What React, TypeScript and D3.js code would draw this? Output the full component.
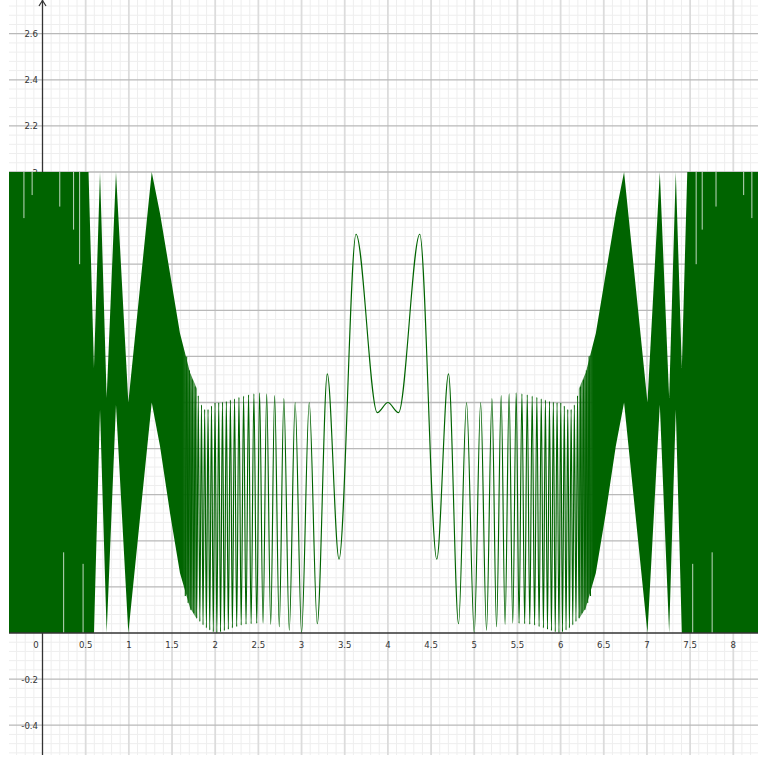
import React from 'react';
import * as d3 from 'd3';

const W = 758;
const H = 757;

// Tick labels
const xTickValues = [0, 0.5, 1, 1.5, 2, 2.5, 3, 3.5, 4, 4.5, 5, 5.5, 6, 6.5, 7, 7.5, 8];
const xTickLabels = ['0', '0.5', '1', '1.5', '2', '2.5', '3', '3.5', '4', '4.5', '5', '5.5', '6', '6.5', '7', '7.5', '8'];
const yTickValues = [-0.4, -0.2, 0.2, 0.4, 0.6, 0.8, 1, 1.2, 1.4, 1.6, 1.8, 2, 2.2, 2.4, 2.6];
const yTickLabels = ['-0.4', '-0.2', '0.2', '0.4', '0.6', '0.8', '1', '1.2', '1.4', '1.6', '1.8', '2', '2.2', '2.4', '2.6'];

// Dense band (unresolvable oscillation) envelopes, left side
const bandLeftX = [-0.388, 0.533, 0.596, 0.666, 0.743, 0.851, 0.994, 1.265, 1.361, 1.477, 1.592, 1.708, 1.789];
const bandLeftUpper = [2, 2, 1.15, 2, 1.02, 2, 1.0, 2, 1.82, 1.56, 1.3, 1.13, 1.06];
const bandLeftLower = [0, 0, 0, 0.97, 0, 0.99, 0, 1.0, 0.81, 0.52, 0.26, 0.11, 0.06];

// Dense band envelopes, right side
const bandRightX = [6.211, 6.292, 6.408, 6.523, 6.639, 6.735, 7.006, 7.149, 7.257, 7.334, 7.404, 7.467, 8.388];
const bandRightUpper = [1.06, 1.13, 1.3, 1.56, 1.82, 2, 1.0, 2, 1.02, 2, 1.15, 2, 2];
const bandRightLower = [0.06, 0.11, 0.26, 0.52, 0.81, 1.0, 0, 0.99, 0, 0.97, 0, 0, 0];

// Thin white gaps inside the dense band: x, top y, bottom y
const gapX = [-0.215, -0.12, 0.2, 0.245, 0.36, 0.43, 0.47, 7.53, 7.57, 7.64, 7.755, 7.8, 8.12, 8.215];
const gapTop = [2.0, 2.0, 2.0, 0.35, 2.0, 2.0, 0.3, 0.3, 2.0, 2.0, 0.35, 2.0, 2.0, 2.0];
const gapBottom = [1.8, 1.9, 1.85, 0.0, 1.75, 1.6, 0.0, 0.0, 1.6, 1.75, 0.0, 1.85, 1.9, 1.8];

// Resolved oscillation: successive extrema (trough / peak)
const waveX = [
  1.654, 1.670, 1.686, 1.702, 1.718, 1.735, 1.752, 1.769, 1.786, 1.804, 1.822, 1.841, 1.859, 1.878, 1.898, 1.917,
  1.937, 1.957, 1.978, 1.998, 2.019, 2.041, 2.062, 2.084, 2.106, 2.129, 2.152, 2.176, 2.199, 2.224, 2.249, 2.275,
  2.301, 2.329, 2.357, 2.386, 2.416, 2.448, 2.481, 2.514, 2.554, 2.596, 2.643, 2.688, 2.742, 2.795, 2.858, 2.926,
  3.0, 3.089, 3.182, 3.298, 3.434, 3.631, 3.877, 4.0,
  4.123, 4.369, 4.566, 4.702, 4.818, 4.911, 5.0, 5.074, 5.142, 5.205, 5.258, 5.312, 5.357, 5.404, 5.446, 5.486,
  5.519, 5.552, 5.584, 5.614, 5.643, 5.671, 5.699, 5.725, 5.751, 5.776, 5.801, 5.824, 5.848, 5.871, 5.894, 5.916,
  5.938, 5.959, 5.981, 6.002, 6.022, 6.043, 6.063, 6.083, 6.102, 6.122, 6.141, 6.159, 6.178, 6.196, 6.214, 6.231,
  6.248, 6.265, 6.282, 6.298, 6.314, 6.330, 6.346,
];
const waveY = [
  0.16, 1.2, 0.13, 1.14, 0.1, 1.1, 0.085, 1.07, 0.065, 1.03, 0.05, 0.99, 0.035, 0.97, 0.022, 0.97,
  0.013, 0.985, 0.005, 0.999, 0.0, 1.0, 0.005, 1.002, 0.01, 1.005, 0.016, 1.01, 0.022, 1.016, 0.028, 1.022,
  0.034, 1.028, 0.038, 1.033, 0.04, 1.038, 0.042, 1.042, 0.043, 1.038, 0.038, 1.03, 0.027, 1.017, 0.012, 1.0,
  0.0, 1.0, 0.04, 1.124, 0.32, 1.73, 0.956, 1.0,
  0.956, 1.73, 0.32, 1.124, 0.04, 1.0, 0.0, 1.0, 0.012, 1.017, 0.027, 1.03, 0.038, 1.038, 0.043, 1.042,
  0.042, 1.038, 0.04, 1.033, 0.038, 1.028, 0.034, 1.022, 0.028, 1.016, 0.022, 1.01, 0.016, 1.005, 0.01, 1.002,
  0.005, 1.0, 0.0, 0.999, 0.005, 0.985, 0.013, 0.97, 0.022, 0.97, 0.035, 0.99, 0.05, 1.03, 0.065, 1.07,
  0.085, 1.1, 0.1, 1.14, 0.13, 1.2, 0.16,
];

const GREEN = '#006400';
const FONT = "'DejaVu Sans Condensed', 'Liberation Sans Narrow', 'DejaVu Sans', sans-serif";

export default function App() {
  const x = d3.scaleLinear().domain([0, 8]).range([42.5, 733.3]);
  const y = d3.scaleLinear().domain([0, 2]).range([633, 172]);
  const left = 9;
  const bottom = 755;

  const minorX = d3.range(-3, 84).map((i) => ({ v: i / 10, major: i % 5 === 0 }));
  const minorY = d3.range(-13, 69).map((i) => ({ v: i * 0.04, major: i % 5 === 0 }));

  type B = [number, number, number];
  const area = d3
    .area<B>()
    .x((d) => x(d[0]))
    .y0((d) => y(d[2]))
    .y1((d) => y(d[1]))
    .curve(d3.curveLinear);

  const bandL: B[] = bandLeftX.map((v, i) => [v, bandLeftUpper[i], bandLeftLower[i]]);
  const bandR: B[] = bandRightX.map((v, i) => [v, bandRightUpper[i], bandRightLower[i]]);

  const n = Math.min(waveX.length, waveY.length);
  const wave: [number, number][] = d3.range(n).map((i) => [waveX[i], waveY[i]]);
  const line = d3
    .line<[number, number]>()
    .x((d) => x(d[0]))
    .y((d) => y(d[1]))
    .curve(d3.curveMonotoneX);

  return (
    <svg
      width={W}
      height={H}
      style={{ position: 'absolute', left: 0, top: 0, background: '#fff' }}
      xmlns="http://www.w3.org/2000/svg"
    >
      <defs>
        <clipPath id="plot">
          <rect x={left} y={0} width={W - left} height={bottom} />
        </clipPath>
        <linearGradient id="fadeL" gradientUnits="userSpaceOnUse" x1={x(1.62)} x2={x(1.79)} y1={0} y2={0}>
          <stop offset="0" stopColor={GREEN} stopOpacity={1} />
          <stop offset="1" stopColor={GREEN} stopOpacity={0.55} />
        </linearGradient>
        <linearGradient id="fadeR" gradientUnits="userSpaceOnUse" x1={x(6.38)} x2={x(6.21)} y1={0} y2={0}>
          <stop offset="0" stopColor={GREEN} stopOpacity={1} />
          <stop offset="1" stopColor={GREEN} stopOpacity={0.55} />
        </linearGradient>
      </defs>
      <rect x={0} y={0} width={W} height={H} fill="#fff" />
      {/* minor grid */}
      <g>
        {minorX.filter((d) => !d.major && x(d.v) > left).map((d, i) => (
          <line key={'mx' + i} x1={x(d.v)} x2={x(d.v)} y1={0} y2={bottom} stroke="#eeeeee" strokeWidth={1} />
        ))}
        {minorY.filter((d) => !d.major && y(d.v) < bottom).map((d, i) => (
          <line key={'my' + i} x1={left} x2={W} y1={y(d.v)} y2={y(d.v)} stroke="#eeeeee" strokeWidth={1} />
        ))}
      </g>
      {/* major grid */}
      <g>
        {minorX.filter((d) => d.major && d.v !== 0 && x(d.v) > left).map((d, i) => (
          <line key={'Mx' + i} x1={x(d.v)} x2={x(d.v)} y1={0} y2={bottom} stroke="#dcdcdc" strokeWidth={1.8} />
        ))}
        {minorY.filter((d) => d.major && Math.abs(d.v) > 1e-9 && y(d.v) < bottom).map((d, i) => (
          <line key={'My' + i} x1={left} x2={W} y1={y(d.v)} y2={y(d.v)} stroke="#b9b9b9" strokeWidth={1.3} />
        ))}
      </g>
      {/* tick labels */}
      <g fontFamily={FONT} fontSize={9.5} fill="#333" style={{ fontStretch: 'condensed' }}>
        {xTickValues.map((v, i) => (
          <text key={'xt' + i} x={v === 0 ? x(v) - 6.5 : x(v)} y={y(0) + 11.5} textAnchor="middle" dominantBaseline="central">
            {xTickLabels[i]}
          </text>
        ))}
        {yTickValues.map((v, i) => (
          <text key={'yt' + i} x={38} y={y(v)} textAnchor="end" dominantBaseline="central">
            {yTickLabels[i]}
          </text>
        ))}
      </g>
      {/* y axis */}
      <line x1={x(0)} x2={x(0)} y1={0} y2={bottom} stroke="#333" strokeWidth={1.3} />
      <path d={`M${x(0) - 3.5},6 L${x(0)},0.5 L${x(0) + 3.5},6`} fill="none" stroke="#333" strokeWidth={1.2} />
      {/* curve */}
      <g clipPath="url(#plot)">
        <path d={area(bandL) || ''} fill="url(#fadeL)" stroke="none" />
        <path d={area(bandR) || ''} fill="url(#fadeR)" stroke="none" />
        {gapX.map((gx, i) => (
          <line key={'g' + i} x1={x(gx)} x2={x(gx)} y1={y(gapTop[i])} y2={y(gapBottom[i])} stroke="#fff" strokeOpacity={0.75} strokeWidth={1} />
        ))}
        <path d={line(wave) || ''} fill="none" stroke={GREEN} strokeWidth={1.15} />
      </g>
      {/* x axis */}
      <line x1={left} x2={W} y1={y(0)} y2={y(0)} stroke="#333" strokeWidth={1.3} />
    </svg>
  );
}
